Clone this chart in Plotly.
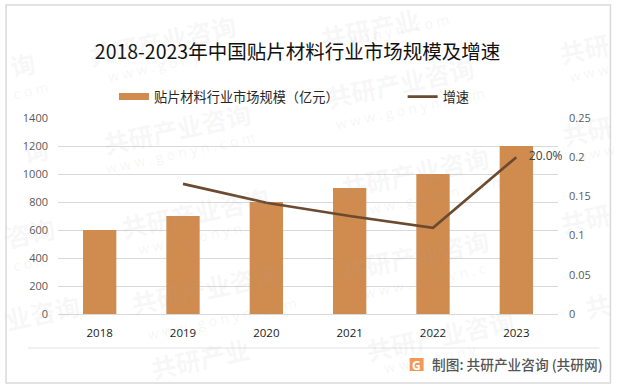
import plotly.graph_objects as go

years = ["2018", "2019", "2020", "2021", "2022", "2023"]
market_size = [600, 700, 800, 900, 1000, 1200]
growth = [None, 0.166, 0.142, 0.125, 0.11, 0.2]
growth_labels = ["", "", "", "", "", "20.0%"]

W, H = 618, 388
L, R, T, B = 58, 558.5, 118, 314
CJK = "Noto Sans CJK SC, Noto Sans, sans-serif"
BAR = "#D08B4E"


def px(x):
    return (x - L) / (R - L)


def py(y):
    return (B - y) / (B - T)


fig = go.Figure()
fig.add_bar(x=years, y=market_size, name="贴片材料行业市场规模（亿元）", showlegend=False,
            marker=dict(color=BAR, line=dict(width=0)), yaxis="y")
# legend key drawn as a wide flat swatch, as in the reference
fig.add_scatter(x=years[:1], y=[None], name="贴片材料行业市场规模（亿元）", mode="lines",
                line=dict(color=BAR, width=7), yaxis="y", legend="legend")
fig.add_scatter(x=years, y=growth, name="增速", mode="lines+text", yaxis="y2",
                line=dict(color="#6B4A2F", width=2.6), cliponaxis=False, legend="legend2",
                text=["\u00a0\u00a0\u00a0\u00a0" + t if t else "" for t in growth_labels],
                textposition="middle right",
                textfont=dict(size=12, color="#404040", family="Open Sans"))

wm_main = [("共研产业咨询", 162, 40), ("共研产业咨询", 177, 128), ("共研产业咨询", 195, 212),
           ("共研产业咨询", 205, 288), ("共研产业", 200, 358), ("共研产业", 370, 28),
           ("共研产业咨询", 400, 82), ("共研产业咨询", 415, 172), ("共研产业咨询", 415, 255),
           ("共研产业咨询", 440, 335), ("共研", 585, 48), ("共研", 588, 130), ("共研", 586, 218),
           ("共", 598, 305), ("询", 22, 64), ("询", 35, 150), ("咨询", 30, 232), ("业咨询", 42, 312)]
wm_sub = [("w w w . g o n y n", 160, 66), ("w w w . g o n y n . c o m", 180, 152),
          ("w w w . g o n y n", 190, 238), ("w w w . g o n y n . c o m", 222, 318),
          ("g o n y n . c o m", 400, 30), ("w w w . g o n y n . c o m", 410, 108),
          ("w w w . g o n y n . c o m", 430, 196), ("w w w . g o n y n . c", 425, 280),
          ("w w w . g o n y", 430, 358), ("w w w", 590, 72), ("w w w", 596, 152),
          ("c o m", 30, 90), ("c o m", 30, 262)]
annotations = []
for text, x, y in wm_main:
    annotations.append(dict(text="<b>" + text + "</b>", x=px(x), y=py(y), xref="paper", yref="paper",
                            xanchor="center", yanchor="middle", showarrow=False, textangle=-12,
                            font=dict(size=25, family=CJK, color="rgba(170,170,170,0.10)")))
for text, x, y in wm_sub:
    annotations.append(dict(text=text, x=px(x), y=py(y), xref="paper", yref="paper",
                            xanchor="center", yanchor="middle", showarrow=False, textangle=-12,
                            font=dict(size=14, family="Open Sans", color="rgba(170,170,170,0.13)")))
annotations += [
    dict(text="制图: 共研产业咨询 (共研网)", x=px(430), y=py(364), xref="paper", yref="paper",
         xanchor="left", yanchor="middle", showarrow=False,
         font=dict(size=13.7, family=CJK, color="#555555", weight=500)),
    dict(text="<b>G</b>", x=px(417), y=py(365), xref="paper", yref="paper", xanchor="center",
         yanchor="middle", showarrow=False, font=dict(size=12, family="Open Sans", color="#FFFFFF")),
]

shapes = [
    dict(type="rect", xref="paper", yref="paper", x0=px(6), x1=px(611), y0=py(5), y1=py(383),
         line=dict(color="#D9D9D9", width=1.5), fillcolor="rgba(0,0,0,0)", layer="below"),
    dict(type="line", xref="paper", yref="paper", x0=px(28), x1=px(600), y0=py(348), y1=py(348),
         line=dict(color="#E3E3E3", width=1), layer="below"),
    dict(type="rect", xref="paper", yref="paper", x0=px(410), x1=px(424), y0=py(358), y1=py(371),
         line=dict(width=0), fillcolor="#F59A56", layer="below"),
]

legend_common = dict(orientation="h", yanchor="middle", y=py(97), bgcolor="rgba(0,0,0,0)",
                     font=dict(size=13.2, color="#262626"), itemwidth=30, xanchor="left")

fig.update_layout(
    width=W, height=H,
    margin=dict(l=L, r=W - R, t=T, b=H - B, autoexpand=False),
    paper_bgcolor="white", plot_bgcolor="white",
    font=dict(family=CJK, color="#262626"),
    title=dict(text="2018-2023年中国贴片材料行业市场规模及增速", x=297.5 / W, xanchor="center",
               y=1 - 52 / H, yanchor="middle", font=dict(size=19.5, color="#111111", family=CJK)),
    bargap=0.6,
    legend=dict(x=px(114), **legend_common),
    legend2=dict(x=px(403), **legend_common),
    xaxis=dict(type="category", categoryorder="array", categoryarray=years, range=[-0.5, 5.5],
               showgrid=False, ticks="", showline=True, linecolor="#D9D9D9",
               linewidth=1, ticklabelstandoff=8,
               tickfont=dict(size=11.5, color="#1A1A1A", family="Open Sans")),
    yaxis=dict(range=[0, 1400], dtick=200, gridcolor="#D9D9D9", gridwidth=1, zeroline=False,
               ticklabelstandoff=9,
               tickfont=dict(size=11, color="#595959", family="Open Sans"), ticks=""),
    yaxis2=dict(range=[0, 0.25], dtick=0.05, overlaying="y", side="right", showgrid=False,
                zeroline=False, tickformat="~g", ticklabelstandoff=10,
                tickfont=dict(size=11, color="#595959", family="Open Sans"), ticks=""),
    annotations=annotations,
    shapes=shapes,
)

fig.write_html("out.html", config={"displayModeBar": False},
               post_script="document.body.style.margin='0';document.body.style.overflow='hidden';")
